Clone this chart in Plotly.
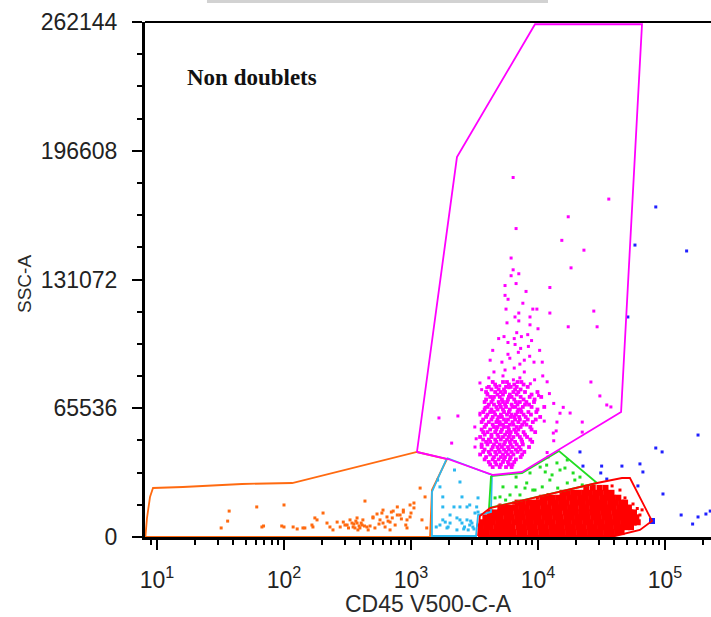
import plotly.graph_objects as go

# ---------------- data (CD45 V500-C-A , SSC-A) ----------------
orange_cd45 = [37, 36, 32, 61, 100, 100, 69, 118, 127, 141, 169, 203, 175, 218, 230, 243, 293, 314, 331, 350,
               376, 396, 418, 434, 476, 502, 540, 570, 602, 647, 684, 724, 780, 820, 870, 930, 983, 1055, 1180,
               1220, 1290, 1330, 930, 684, 520, 460, 67, 96, 146, 166, 182, 262, 376, 450, 502, 602, 780, 870,
               983, 1055, 302, 322, 343, 362, 277, 382, 412, 750, 625, 712, 355, 368, 390, 405, 430, 560, 590,
               660, 700, 840, 910, 1000]
orange_ssc = [13200, 8100, 4600, 15300, 16300, 5100, 5600, 5100, 4100, 4600, 5100, 12200, 9700, 7100, 5100, 3600,
              7600, 6100, 8700, 5100, 7100, 4600, 8700, 18300, 5600, 10200, 11700, 8700, 13700, 10200, 7600, 13200,
              15300, 11200, 13700, 8700, 16300, 17300, 24900, 8700, 20400, 4600, 4600, 3600, 4600, 3600, 5100, 5600,
              4600, 6100, 8700, 7600, 9700, 5100, 9700, 7100, 11200, 12700, 10200, 14800, 6100, 4600, 7100, 4600,
              5100, 3600, 6100, 6100, 5100, 9700, 6600, 8100, 5600, 7100, 5600, 6600, 12200, 8100, 12700, 9200,
              6100, 12200]

cyan_cd45 = [1690, 1860, 2030, 1960, 2300, 2520, 2760, 2900, 3190, 3070, 2430, 2900, 3290, 2180, 1690, 2430, 3370,
             1780, 2520, 1780, 2760, 3370, 1780, 2030, 2430, 2640, 3020, 1920, 1580, 2820, 3130, 2300, 2200, 1620,
             2600, 2950]
cyan_ssc = [6100, 7600, 11200, 5100, 9700, 7100, 8700, 6100, 12200, 5100, 15300, 16300, 15300, 15300, 25500, 28000,
            19900, 20400, 20400, 15300, 15300, 12700, 8700, 7100, 8700, 5100, 7100, 4600, 5100, 3600, 4100, 3600,
            34100, 29000, 4100, 8100]

green_cd45 = [5020, 5560, 6720, 8150, 9470, 10800, 12400, 14300, 17000, 19500, 22300, 10400, 11700, 14100, 16300,
              17000, 18900, 8650, 6720, 5300, 4590, 6020, 7210, 12900, 21400, 9100, 7900, 14900, 11400]
green_ssc = [20400, 18800, 25500, 27500, 23900, 25500, 29000, 24900, 27500, 29000, 26500, 35600, 36600, 37700,
             35100, 39200, 32600, 32600, 30500, 25500, 19900, 21400, 21400, 31600, 30500, 23900, 24900, 34100, 33100]

blue_cd45 = [84600, 148000, 58000, 51000, 182000, 84600, 94900, 31700, 45800, 63500, 67000, 21400, 22600, 31200,
             34800, 61200, 96400, 134000, 182000, 210000, 165000, 227000, 78900]
blue_ssc = [168000, 145600, 148600, 112000, 51900, 45300, 43300, 36100, 36100, 37200, 33100, 43300, 36100, 32600,
            29500, 26000, 21900, 11200, 10200, 11700, 6600, 13200, 8100]

magenta_sparse_cd45 = [17300, 36100, 6370, 6720, 15400, 23000, 6140, 6370, 7060, 6140, 18200, 6720, 5500, 12400,
                       8050, 5500, 5810, 7600, 9100, 9800, 5600, 12400, 27500, 7060, 6590, 7060, 8650, 5700, 8650,
                       17300, 29200, 10000, 37500, 34800, 30700, 26100, 22300, 14100, 17900, 13200, 22300, 12000,
                       3190, 3490, 3490, 1660, 2340, 2090,
                       6800, 8300, 5400, 6500, 7400, 8900, 4900, 5800, 6600, 4400, 7300, 8400, 5800, 7000, 8600,
                       10300, 4200, 5200, 6000, 7200, 7800, 9300, 10800, 4500, 5500, 6500, 7800, 4100, 5300, 6400,
                       9400, 10900, 11800, 3950, 3600, 5000, 7200, 8700, 4000, 5900, 10100, 12300, 13300, 14900,
                       15800, 11200, 13900, 13300, 11800, 3180, 3260, 3490, 3830]
magenta_sparse_ssc = [163000, 172000, 183000, 157000, 151000, 146000, 142000, 136000, 134000, 133000, 137000,
                      129000, 128000, 127000, 125000, 123000, 121000, 119000, 116000, 116000, 116000, 114000,
                      115000, 114000, 112000, 110000, 112000, 109000, 108000, 107000, 107000, 106000, 66200,
                      67200, 71800, 78900, 58500, 58500, 63100, 52900, 53400, 40700, 45800, 62100, 78400, 60600,
                      61600, 47800,
                      104000, 103000, 102000, 101000, 102000, 100000, 101000, 99000, 98000, 95000, 96000, 97000,
                      93000, 94000, 92000, 95000, 90000, 89000, 91000, 88000, 90000, 89000, 89000, 84000, 85000,
                      86000, 84000, 81000, 82000, 80000, 80000, 82000, 79000, 76000, 75000, 77000, 81000, 78000,
                      73000, 76000, 72000, 73000, 68000, 63000, 66000, 59000, 54000, 49000, 43000, 56000, 50000,
                      63000, 66000]

# dense magenta core: one SSC level per row, CD45 values along the row
magenta_rows_ssc = [78900, 77600, 76400, 75100, 73800, 72500, 71300, 70000, 68700, 67400, 66200, 64900, 63600,
                    62300, 61100, 59800, 58500, 57200, 56000, 54700, 53400, 52100, 50900, 49600, 48400, 47100,
                    45800, 44500, 43300, 42000, 40700, 39500, 38200, 36900, 35600]
magenta_rows_cd45 = [
    [4400, 5300, 5700, 6900, 7400],
    [4600, 5900, 6500, 7700],
    [4100, 4700, 5600, 6100, 6800, 8300],
    [4300, 4900, 5400, 6600, 7300],
    [3900, 4600, 5100, 5500, 6400, 7000, 7900, 9900],
    [4000, 4800, 5300, 6000, 6800, 8900],
    [4200, 4500, 5000, 5900, 6200, 7300, 8600, 10600],
    [3900, 4400, 5200, 5800, 6500, 7700, 9400],
    [3800, 4300, 4900, 5300, 5700, 6700, 7200, 8100, 9300],
    [4100, 4500, 5000, 5500, 6200, 6900, 7900, 8500],
    [4000, 4700, 5100, 5600, 6300, 6600, 7600, 8900, 11200],
    [3800, 4300, 4800, 5300, 6000, 7000, 7300, 9900],
    [3700, 4200, 4500, 5400, 5900, 6900, 7400, 8400, 9700],
    [4000, 4600, 5100, 5700, 6200, 6700, 7700, 8800],
    [3900, 4400, 4900, 5200, 6100, 6500, 7100, 8000, 10400],
    [3700, 4300, 4800, 5400, 5800, 6600, 7200, 8300, 9600],
    [3600, 4100, 4700, 5000, 5600, 6300, 7000, 7800, 9100],
    [3900, 4400, 5000, 5300, 6000, 6400, 7500, 8100],
    [3800, 4500, 4800, 5400, 5800, 6800, 7300, 8700],
    [3600, 4200, 4700, 5200, 5900, 6500, 7000, 8900],
    [3700, 4000, 4600, 5100, 5700, 6100, 6700, 7700, 9500],
    [3800, 4300, 4800, 5500, 6000, 6900, 7900],
    [3500, 4300, 4900, 5300, 5900, 6400, 7200, 8200],
    [3700, 4100, 4600, 5100, 5700, 6200, 7400, 8700],
    [3900, 4200, 4700, 5500, 6000, 6600, 7500, 9000],
    [3600, 4000, 4500, 5000, 5400, 6100, 6800, 7600],
    [3600, 4400, 4800, 5200, 5800, 6300, 7100, 8500],
    [3800, 4300, 4900, 5400, 5900, 6700, 7300],
    [3700, 4100, 4600, 5000, 5600, 6200, 6900, 7800],
    [3500, 4200, 4700, 5300, 5800, 6400, 7500],
    [3900, 4500, 5100, 5500, 6100, 7300],
    [3800, 4400, 4900, 5400, 6000, 6700],
    [4100, 4600, 5300, 5800, 6500],
    [4200, 4700, 5100, 5900, 6300],
    [4400, 5000, 5600, 6200],
]

# dense red (lymphocyte) core: one SSC level per row
red_rows_ssc = [2500, 5000, 7500, 10000, 12500, 15000, 17500, 20000, 22500, 25000]
red_rows_cd45 = [
    [3600, 3950, 4350, 4800, 5300, 5850, 6450, 7150, 7850, 8700, 9600, 10600, 11700, 12900, 14200, 15700, 17300,
     19100, 21100, 23300, 25700, 28400, 31300, 34600, 38200, 42100, 45500],
    [3550, 3900, 4250, 4700, 5200, 5700, 6300, 7000, 7700, 8500, 9400, 10400, 11500, 12700, 14000, 15400, 17000,
     18800, 20700, 22900, 25300, 27900, 30800, 34000, 37500, 41400, 45700, 50000, 54000],
    [3650, 4000, 4400, 4850, 5350, 5900, 6500, 7200, 7950, 8800, 9700, 10700, 11800, 13000, 14400, 15900, 17500,
     19300, 21300, 23500, 26000, 28700, 31700, 35000, 38600, 42600, 47000, 51800, 57000, 61000],
    [3850, 4200, 4650, 5100, 5650, 6200, 6850, 7550, 8350, 9200, 10150, 11200, 12400, 13700, 15100, 16700, 18400,
     20300, 22400, 24700, 27300, 30100, 33200, 36700, 40500, 44700, 49300, 54500, 59500],
    [4200, 4600, 5050, 5550, 6100, 6750, 7450, 8200, 9050, 10000, 11000, 12200, 13400, 14800, 16400, 18100, 19900,
     22000, 24300, 26800, 29600, 32600, 36000, 39800, 43900, 48400, 53400, 57000],
    [5050, 5550, 6100, 6700, 7400, 8150, 9000, 9950, 11000, 12100, 13400, 14800, 16300, 18000, 19800, 21900, 24200,
     26700, 29400, 32500, 35800, 39500, 43600, 48100, 52000],
    [6900, 7600, 8400, 9300, 10300, 11300, 12500, 13800, 15200, 16800, 18600, 20500, 22600, 25000, 27600, 30400,
     33600, 37100, 40900, 45100, 48500],
    [10800, 11900, 13100, 14500, 16000, 17700, 19500, 21500, 23800, 26200, 29000, 32000, 35300, 38900, 42900],
    [15600, 17200, 19000, 21000, 23200, 25600, 28200, 31100, 34400, 37900],
    [24000, 27000, 30500, 34000],
]
red_sparse_cd45 = [54900, 51000, 48400, 44200, 38300, 63500, 58000, 3370, 3950, 5020, 6430, 60500, 8300, 9900,
                   12000, 66000, 56000]
red_sparse_ssc = [12700, 9700, 19900, 23900, 26000, 11200, 6600, 6100, 8700, 16300, 17300, 14500, 18500, 19700,
                  21600, 13800, 16800]

# ---------------- gates ----------------
gate_orange_x = [8.1, 8.34, 8.81, 9.3, 16.0, 46.7, 116, 1114, 1919, 1462, 1412, 8.1]
gate_orange_y = [0, 9671, 20360, 24941, 25450, 26977, 27486, 43265, 39702, 23923, 0, 0]

gate_magenta_x = [1114, 2301, 9470, 65900, 45100, 7480, 4430, 1954, 1114]
gate_magenta_y = [43265, 193420, 261000, 261000, 63625, 33085, 31558, 39702, 43265]

gate_cyan_x = [1919, 4340, 4265, 3370, 3250, 1462, 1462, 1919]
gate_cyan_y = [40211, 31558, 12725, 11198, 509, 509, 22905, 40211]

gate_green_x = [4265, 7480, 14630, 29170, 4113, 4265]
gate_green_y = [31049, 32576, 43774, 27486, 14761, 31049]

gate_red_x = [3370, 3490, 4190, 29170, 45800, 52960, 79000, 63480, 40350, 3370]
gate_red_y = [509, 10689, 14761, 27486, 30031, 30031, 8144, 3563, 509, 509]

# ---------------- axis ticks ----------------
x_tickvals = [10, 100, 1000, 10000, 100000]
x_ticktext = ["10<sup>1</sup>", "10<sup>2</sup>", "10<sup>3</sup>", "10<sup>4</sup>", "10<sup>5</sup>"]
y_tickvals = [0, 65536, 131072, 196608, 262144]
y_ticktext = ["0", "65536", "131072", "196608", "262144"]

# ---------------- build ----------------
mag_core_x, mag_core_y = [], []
for s, row in zip(magenta_rows_ssc, magenta_rows_cd45):
    mag_core_x += row
    mag_core_y += [s] * len(row)

red_x, red_y = [], []
for s, row in zip(red_rows_ssc, red_rows_cd45):
    red_x += row
    red_y += [s] * len(row)

ORANGE = "#ff6a10"
CYAN = "#2bb8f0"
GREEN = "#22dd22"
MAGENTA = "#ff00ff"
RED = "#ff0000"
BLUE = "#2020ff"

fig = go.Figure()

def pts(x, y, color, size):
    fig.add_trace(go.Scatter(x=x, y=y, mode="markers",
                             marker=dict(symbol="square", size=size, color=color, line=dict(width=0)),
                             hoverinfo="skip", showlegend=False))

pts(orange_cd45, orange_ssc, ORANGE, 3)
pts(cyan_cd45, cyan_ssc, CYAN, 3)
pts(green_cd45, green_ssc, GREEN, 3)
pts(magenta_sparse_cd45, magenta_sparse_ssc, MAGENTA, 3)
pts(mag_core_x, mag_core_y, MAGENTA, 3.8)
pts(red_x, red_y, RED, 6)
pts(red_sparse_cd45, red_sparse_ssc, RED, 3)
pts(blue_cd45, blue_ssc, BLUE, 3)
pts([79000], [8144], BLUE, 6)

def gate(x, y, color):
    fig.add_trace(go.Scatter(x=x, y=y, mode="lines", line=dict(color=color, width=1.8),
                             hoverinfo="skip", showlegend=False))

gate(gate_orange_x, gate_orange_y, ORANGE)
gate(gate_cyan_x, gate_cyan_y, CYAN)
gate(gate_green_x, gate_green_y, GREEN)
gate(gate_red_x, gate_red_y, RED)
gate(gate_magenta_x, gate_magenta_y, MAGENTA)

tickfont = dict(family="Liberation Sans, Arial", size=23, color="#222222")

x_minor = [9, 20, 30, 40, 50, 60, 70, 80, 90, 200, 300, 400, 500, 600, 700, 800, 900,
           2000, 3000, 4000, 5000, 6000, 7000, 8000, 9000,
           20000, 30000, 40000, 50000, 60000, 70000, 80000, 90000, 200000]

fig.update_layout(
    width=711, height=617,
    margin=dict(l=145, r=0, t=22, b=80, pad=0),
    paper_bgcolor="white", plot_bgcolor="white",
    xaxis=dict(type="log", range=[0.9055, 5.3622], showgrid=False, zeroline=False,
               showline=True, linecolor="black", linewidth=3,
               ticks="outside", ticklen=10, tickwidth=1.5, tickcolor="black",
               tickmode="array", tickvals=x_tickvals, ticktext=x_ticktext,
               tickfont=tickfont, ticklabelstandoff=10,
               minor=dict(tickmode="array", tickvals=x_minor, ticks="outside", ticklen=5,
                          tickwidth=1.5, tickcolor="black", showgrid=False),
               title=dict(text="CD45 V500-C-A",
                          font=dict(family="Liberation Sans, Arial", size=23, color="#2a2a2a"),
                          standoff=2)),
    yaxis=dict(range=[0, 262144], showgrid=False, zeroline=False,
               showline=True, linecolor="black", linewidth=3,
               ticks="outside", ticklen=10, tickwidth=1.5, tickcolor="black",
               tickmode="array", tickvals=y_tickvals, ticktext=y_ticktext,
               tickfont=tickfont, ticklabelstandoff=10,
               minor=dict(dtick=16384, ticks="outside", ticklen=5, tickwidth=1.5,
                          tickcolor="black", showgrid=False)),
    annotations=[
        dict(text="Non doublets", xref="paper", yref="paper", x=0.0707, y=0.8913,
             xanchor="left", yanchor="middle", showarrow=False,
             font=dict(family="Liberation Serif, Times New Roman, serif", size=23,
                       color="#111111", weight="bold")),
        dict(text="SSC-A", xref="paper", yref="paper", x=-0.212, y=0.4913, textangle=-90,
             xanchor="center", yanchor="middle", showarrow=False,
             font=dict(family="Liberation Sans, Arial", size=19, color="#2a2a2a")),
    ],
    shapes=[
        dict(type="line", xref="paper", yref="paper", x0=0, x1=1, y0=1, y1=1,
             line=dict(color="black", width=2)),
        dict(type="rect", xref="paper", yref="paper", x0=0.1095, x1=0.712, y0=1.0369, y1=1.05,
             fillcolor="#d2d2d2", line=dict(width=0), layer="above"),
    ],
)

fig.write_html("out.html")
